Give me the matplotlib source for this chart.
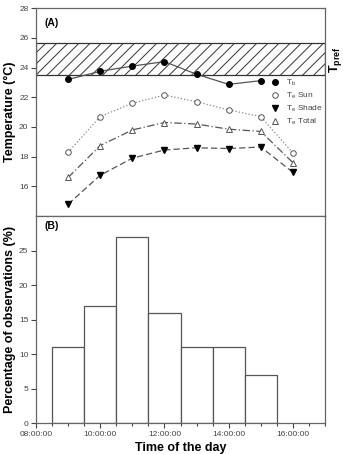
import matplotlib
matplotlib.use("Agg")
import matplotlib.pyplot as plt
from matplotlib.ticker import MultipleLocator, FuncFormatter

# ---------------------------------------------------------------------------
# Data (hours of the day)
# ---------------------------------------------------------------------------
hours_tb = [9, 10, 11, 12, 13, 14, 15]
tb = [23.2, 23.75, 24.1, 24.4, 23.55, 22.87, 23.12]

hours_te = [9, 10, 11, 12, 13, 14, 15, 16]
te_sun = [18.3, 20.7, 21.6, 22.15, 21.7, 21.15, 20.7, 18.25]
te_shade = [14.8, 16.75, 17.9, 18.45, 18.6, 18.55, 18.65, 16.95]
te_total = [16.6, 18.75, 19.8, 20.3, 20.2, 19.85, 19.7, 17.6]

tpref_low, tpref_high = 23.48, 25.63

obs_hours = [9, 10, 11, 12, 13, 14, 15]
obs_pct = [11, 17, 27, 16, 11, 11, 7]

# ---------------------------------------------------------------------------
# Figure
# ---------------------------------------------------------------------------
plt.rcParams["font.family"] = ["Liberation Sans", "DejaVu Sans"]
plt.rcParams["mathtext.fontset"] = "custom"
plt.rcParams["mathtext.rm"] = "Liberation Sans"
plt.rcParams["mathtext.bf"] = "Liberation Sans:bold"
plt.rcParams["hatch.color"] = "#333333"
plt.rcParams["hatch.linewidth"] = 0.7

fig = plt.figure(figsize=(3.43, 4.54), dpi=100)
ax1 = fig.add_axes([0.105, 0.524, 0.8425, 0.458])
ax2 = fig.add_axes([0.105, 0.068, 0.8425, 0.456])

line_col = "#555555"
spine_col = "#666666"

# Panel A
ax1.axhspan(tpref_low, tpref_high, facecolor="white", edgecolor="#333333",
            hatch="///", linewidth=0.9, zorder=1)
ax1.plot(hours_tb, tb, "-", color=line_col, lw=0.9, marker="o", ms=4,
         mfc="black", mec="black", label="T$_\\mathrm{b}$", zorder=3)
ax1.plot(hours_te, te_sun, ":", color="#888888", lw=0.9, marker="o", ms=4,
         mfc="white", mec="#555555", mew=0.7, label="T$_\\mathrm{e}$ Sun", zorder=3)
ax1.plot(hours_te, te_shade, "--", color=line_col, lw=0.9, marker="v", ms=4,
         mfc="black", mec="black", label="T$_\\mathrm{e}$ Shade", zorder=3,
         dashes=(5, 2.5))
ax1.plot(hours_te, te_total, "-.", color=line_col, lw=0.9, marker="^", ms=4,
         mfc="white", mec="#555555", mew=0.7, label="T$_\\mathrm{e}$ Total", zorder=3,
         dashes=(6, 2, 1, 2))

ax1.set_xlim(8, 17)
ax1.set_ylim(14, 28)
ax1.set_yticks(range(16, 29, 2))
ax1.set_xticks([])
ax1.set_ylabel("Temperature (°C)", fontsize=9, fontweight="bold", labelpad=2)
ax1.text(0.03, 0.93, "(A)", transform=ax1.transAxes, fontsize=7.5,
         fontweight="bold", va="center")
ax1.text(1.006, (24.55 - 14) / 14, "$\\mathbf{T_{pref}}$", transform=ax1.transAxes,
         rotation=90, fontsize=9, va="center", ha="left")
leg = ax1.legend(loc="upper left", bbox_to_anchor=(0.815, 0.665), frameon=False,
                 fontsize=6, handlelength=0.8, handletextpad=0.9,
                 labelspacing=0.3, borderaxespad=0, borderpad=0)
for h in leg.legend_handles:
    h.set_linestyle("none")
for t in leg.get_texts():
    t.set_color("#444444")

# Panel B
ax2.bar(obs_hours, obs_pct, width=1.0, color="white", edgecolor="#555555",
        linewidth=0.9)
ax2.set_xlim(8, 17)
ax2.set_ylim(0, 30)
ax2.set_yticks(range(0, 26, 5))
ax2.xaxis.set_major_locator(MultipleLocator(2))
ax2.xaxis.set_minor_locator(MultipleLocator(0.5))
ax2.xaxis.set_major_formatter(FuncFormatter(lambda v, p: f"{int(v):02d}:00:00"))
ax2.set_ylabel("Percentage of observations (%)", fontsize=9,
               fontweight="bold", labelpad=2)
ax2.set_xlabel("Time of the day", fontsize=9, fontweight="bold", labelpad=3)
ax2.text(0.03, 0.95, "(B)", transform=ax2.transAxes, fontsize=7.5,
         fontweight="bold", va="center")

for ax in (ax1, ax2):
    for s in ax.spines.values():
        s.set_color(spine_col)
        s.set_linewidth(0.9)
    ax.tick_params(axis="both", which="both", direction="out", labelsize=6,
                   labelcolor="#444444", color="#444444", width=0.8, pad=2)
    ax.tick_params(axis="both", which="major", length=3.5)
    ax.tick_params(axis="x", which="minor", length=2.5)

fig.savefig("out.png", dpi=100)
